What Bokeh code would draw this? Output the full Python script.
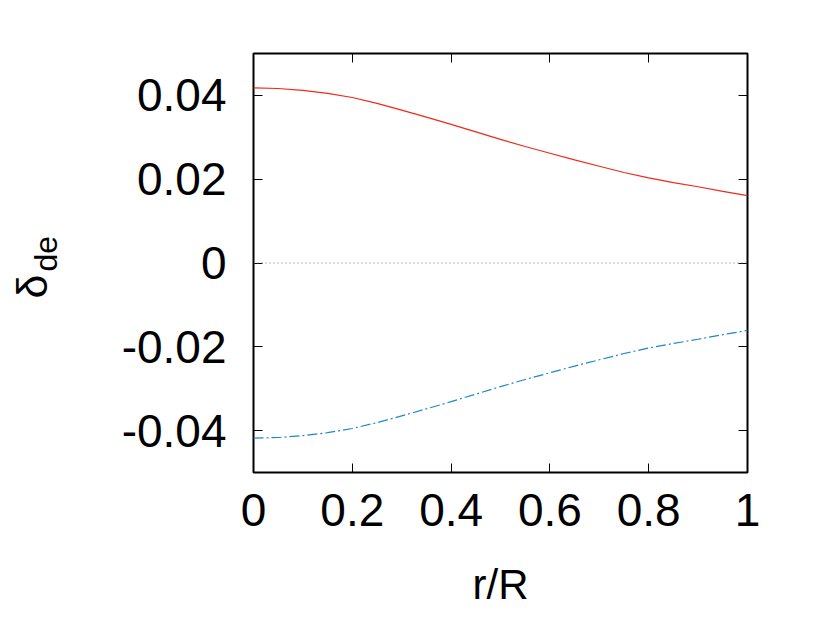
import math
from bokeh.plotting import figure
from bokeh.models import LinearAxis, FixedTicker, Range1d, Span, Label, CustomJSTickFormatter
from bokeh.embed import file_html
from bokeh.resources import INLINE

# ---- data ----
r = [0.00, 0.05, 0.10, 0.15, 0.20, 0.25, 0.30, 0.35, 0.40, 0.45, 0.50,
     0.55, 0.60, 0.65, 0.70, 0.75, 0.80, 0.85, 0.90, 0.95, 1.00]
delta_pos = [0.0418, 0.04165, 0.0412, 0.0405, 0.0395, 0.0381, 0.0365, 0.0348, 0.0331, 0.0313, 0.0295,
             0.0278, 0.0262, 0.0246, 0.0231, 0.0216, 0.0203, 0.0192, 0.0182, 0.0171, 0.0161]
delta_neg = [-0.0418, -0.04165, -0.0412, -0.0405, -0.0395, -0.0381, -0.0365, -0.0348, -0.0331, -0.0313, -0.0295,
             -0.0278, -0.0262, -0.0246, -0.0231, -0.0216, -0.0203, -0.0192, -0.0182, -0.0171, -0.0161]
x_ticks = [0, 0.2, 0.4, 0.6, 0.8, 1]
x_tick_labels = ["0", "0.2", "0.4", "0.6", "0.8", "1"]
y_ticks = [-0.04, -0.02, 0, 0.02, 0.04]
y_tick_labels = ["-0.04", "-0.02", "0", "0.02", "0.04"]
x_label = "r/R"
y_label_main = "δ"
y_label_sub = "de"

FONT = "Liberation Sans"

p = figure(width=814, height=612, output_backend="svg", toolbar_location=None,
           x_range=Range1d(0, 1), y_range=Range1d(-0.05, 0.05),
           min_border_left=253, min_border_right=67, min_border_top=53, min_border_bottom=140)
p.background_fill_color = "white"
p.border_fill_color = "white"
p.grid.visible = False
p.outline_line_color = "black"
p.outline_line_width = 2

# zero line
p.add_layout(Span(location=0, dimension="width", line_color="#7a7a7a",
                  line_width=1, line_dash="1 3"))

p.line(r, delta_pos, line_color="#f2281a", line_width=1.2)
p.line(r, delta_neg, line_color="#1e88c8", line_width=1.2, line_dash="10 3 2 3")

def style_axis(ax, ticks, labels):
    ax.ticker = FixedTicker(ticks=ticks)
    ax.major_tick_in = 9
    ax.major_tick_out = 0
    ax.minor_tick_in = 0
    ax.minor_tick_out = 0
    ax.major_tick_line_color = "black"
    ax.major_tick_line_width = 1
    ax.axis_line_color = None
    ax.major_label_text_font = FONT
    ax.major_label_text_color = "black"
    ax.major_label_text_font_size = "46px"
    if labels is not None:
        ax.major_label_overrides = {t: l for t, l in zip(ticks, labels)}
    else:
        ax.formatter = CustomJSTickFormatter(code="return ''")
        ax.major_label_standoff = 0

style_axis(p.xaxis[0], x_ticks, x_tick_labels)
style_axis(p.yaxis[0], y_ticks, y_tick_labels)
p.xaxis[0].major_label_standoff = 21
p.yaxis[0].major_label_standoff = 27

p.xaxis[0].axis_label = x_label
p.xaxis[0].axis_label_text_font = FONT
p.xaxis[0].axis_label_text_font_size = "42px"
p.xaxis[0].axis_label_text_font_style = "normal"
p.xaxis[0].axis_label_text_color = "black"
p.xaxis[0].axis_label_standoff = 32

top_ax = LinearAxis()
right_ax = LinearAxis()
style_axis(top_ax, x_ticks, None)
style_axis(right_ax, y_ticks, None)
p.add_layout(top_ax, "above")
p.add_layout(right_ax, "right")

# y axis label: delta with subscript "de", placed in the left side panel
lab_main = Label(x=-0.449, y=-0.00847, text=y_label_main, angle=math.pi / 2,
                 text_font=FONT, text_font_size="43px", text_color="black",
                 text_align="left", text_baseline="alphabetic")
lab_sub = Label(x=-0.421, y=-0.00203, text=y_label_sub, angle=math.pi / 2,
                text_font=FONT, text_font_size="32px", text_color="black",
                text_align="left", text_baseline="alphabetic")
p.add_layout(lab_main, "left")
p.add_layout(lab_sub, "left")

open("out.html", "w").write(file_html(p, INLINE))
